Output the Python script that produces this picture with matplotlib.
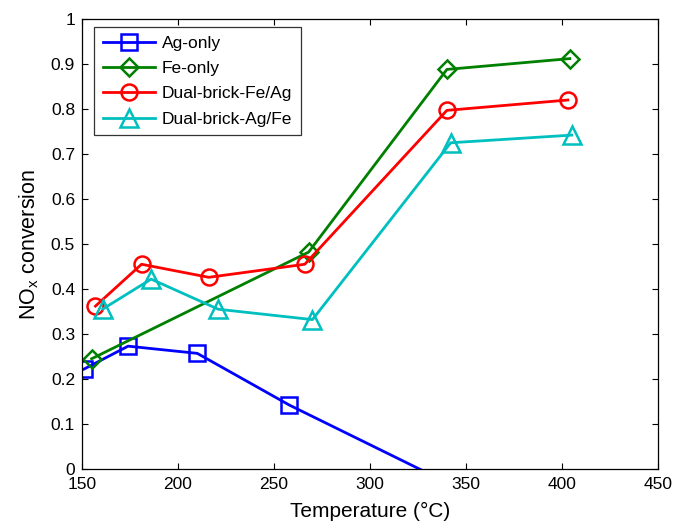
import matplotlib.pyplot as plt
from matplotlib.ticker import FormatStrFormatter

plt.rcParams['font.family'] = ['Liberation Sans', 'DejaVu Sans']

# temperatures (C) and NOx conversion for each catalyst setup
ag_temp = [151, 174, 210, 258, 340]
ag_conv = [0.222, 0.273, 0.257, 0.142, -0.03]

fe_temp = [155, 268, 340, 404]
fe_conv = [0.245, 0.482, 0.888, 0.912]

feag_temp = [157, 181, 216, 266, 340, 403]
feag_conv = [0.362, 0.455, 0.426, 0.455, 0.797, 0.820]

agfe_temp = [161, 186, 221, 270, 342, 405]
agfe_conv = [0.356, 0.422, 0.355, 0.332, 0.725, 0.742]

fig = plt.figure(figsize=(6.75, 5.21), dpi=100)
ax = fig.add_axes([0.1215, 0.0998, 0.8535, 0.8637])

lw = 2.0
mew = 1.8
ax.plot(ag_temp, ag_conv, color='blue', marker='s', ms=12, mfc='none',
        lw=lw, mew=mew, label='Ag-only')
ax.plot(fe_temp, fe_conv, color=(0, 0.5, 0), marker='D', ms=9, mfc='none',
        lw=lw, mew=mew, label='Fe-only')
ax.plot(feag_temp, feag_conv, color='red', marker='o', ms=11.5, mfc='none',
        lw=lw, mew=mew, label='Dual-brick-Fe/Ag')
ax.plot(agfe_temp, agfe_conv, color=(0, 0.75, 0.75), marker='^', ms=13, mfc='none',
        lw=lw, mew=mew, label='Dual-brick-Ag/Fe')

ax.set_xlim(150, 450)
ax.set_ylim(0, 1)
ax.set_xticks(range(150, 451, 50))
ax.set_yticks([i / 10 for i in range(11)])
ax.yaxis.set_major_formatter(FormatStrFormatter('%g'))
ax.tick_params(direction='in', top=True, right=True, length=4, width=0.8,
               labelsize=12.5)
ax.tick_params(axis='x', pad=6)
ax.tick_params(axis='y', pad=5)
for sp in ax.spines.values():
    sp.set_linewidth(0.9)

ax.set_xlabel('Temperature (\u00b0C)', fontsize=15, labelpad=7)
ax.set_ylabel('NO$_\\mathregular{x}$ conversion', fontsize=15.5, labelpad=7)

leg = ax.legend(loc='upper left', bbox_to_anchor=(0.021, 0.982), fontsize=12.5,
                frameon=True, fancybox=False, edgecolor='black', handlelength=3.0,
                borderpad=0.5, labelspacing=0.58, handletextpad=0.4,
                borderaxespad=0)
leg.get_frame().set_linewidth(0.9)

fig.savefig('out.png', dpi=100)
